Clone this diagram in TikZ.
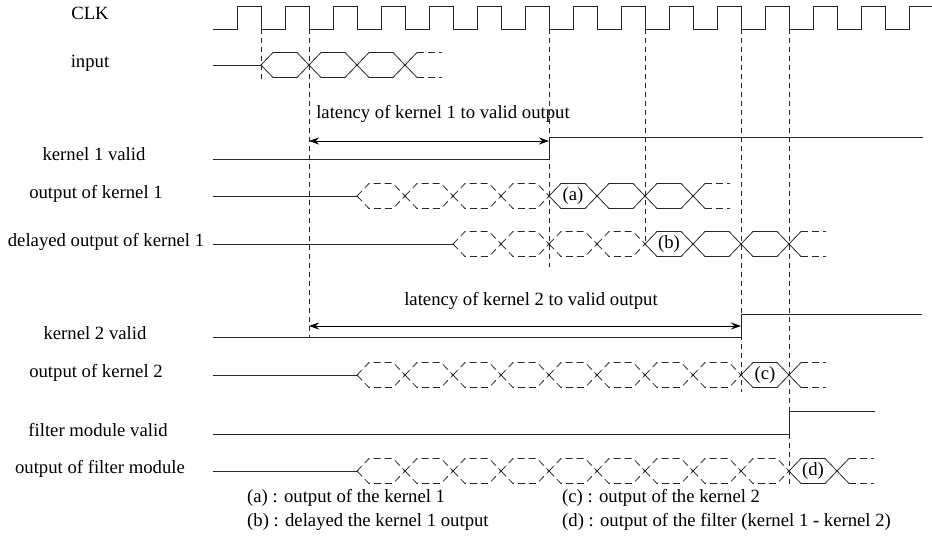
\documentclass[tikz,border=0pt]{standalone}
\usepackage{fontspec}
\setmainfont{Liberation Serif}
\usetikzlibrary{arrows.meta}

% one bus cell between two clock edges, #4 = middle of the bus
\newcommand{\hexcell}[4][]{%
  \draw[bus, #1] ({#2},{#4}) -- ({#2+12},{#4-12.5}) -- ({#3-12},{#4-12.5}) -- ({#3},{#4})
    -- ({#3-12},{#4+12.5}) -- ({#2+12},{#4+12.5}) -- cycle;}
% open end of a bus
\newcommand{\busend}[2]{%
  \draw[bus] ({#1+12},{#2-12.5}) -- ({#1},{#2}) -- ({#1+12},{#2+12.5});
  \draw[bus, dashed] ({#1+12},{#2-12.5}) -- ++(25,0) ({#1+12},{#2+12.5}) -- ++(25,0);}

\begin{document}
\begin{tikzpicture}[
  x=1pt, y=-1pt,
  font=\fontsize{18.7}{22}\selectfont,
  sig/.style={draw=black!85, line width=0.8pt},
  bus/.style={draw=black!85, line width=0.8pt},
  dashed/.style={dash pattern=on 7pt off 4pt},
  guide/.style={draw=black!85, line width=0.7pt, dash pattern=on 5pt off 4pt},
  label/.style={anchor=mid, inner sep=0pt},
  legend/.style={anchor=mid west, inner sep=0pt},
  arrow/.style={{Stealth[length=10pt, width=7pt]}-{Stealth[length=10pt, width=7pt]}, line width=0.9pt}
]
\useasboundingbox (0,0) rectangle (932,543);

% signal names
\node[label] (lclk) at (90,17) {CLK};
\node[label] (lin) at (90,65) {input};
\node[label] (lv1) at (94,158) {kernel 1 valid};
\node[label] (lo1) at (96,196) {output of kernel 1};
\node[label] (ld1) at (106,244) {delayed output of kernel 1};
\node[label] (lv2) at (95,337) {kernel 2 valid};
\node[label] (lo2) at (96,375) {output of kernel 2};
\node[label] (lvf) at (98,434) {filter module valid};
\node[label] (lof) at (100,471) {output of filter module};

% guides on the falling edges
\draw[guide] (261,29) -- (261,82);
\draw[guide] (309,29) -- (309,338);
\draw[guide] (549,29) -- (549,267);
\draw[guide] (645,29) -- (645,244);
\draw[guide] (741,29) -- (741,392);
\draw[guide] (789,29) -- (789,488);

% clock
\draw[sig] (213,29) \foreach \k in {0,...,13} {
  -- ({237+48*\k},29) -- ({237+48*\k},6) -- ({261+48*\k},6) -- ({261+48*\k},29)}
  -- (909,29) -- (909,6) -- (932,6);

% input
\draw[sig] (213,65) -- (261,65);
\foreach \x in {261,309,357} \hexcell{\x}{\x+48}{65};
\busend{405}{65}

% kernel 1 valid
\coordinate (v1lo) at (549,159);
\coordinate (v1hi) at (549,137);
\draw[sig] (213,159) -- (v1lo) -- (v1hi) -- (923,137);
\coordinate (a1s) at (309,141);
\coordinate (a1e) at (549,141);
\draw[arrow] (a1s) -- (a1e);
\node[label] (t1) at (443,116) {latency of kernel 1 to valid output};

% output of kernel 1
\draw[sig] (213,196) -- (357,196);
\foreach \x in {357,405,453,501} \hexcell[dashed]{\x}{\x+48}{196};
\foreach \x in {549,597,645} \hexcell{\x}{\x+48}{196};
\busend{693}{196}
\node (ca) at (573,196) {(a)};

% delayed output of kernel 1
\draw[sig] (213,244) -- (453,244);
\foreach \x in {453,501,549,597} \hexcell[dashed]{\x}{\x+48}{244};
\foreach \x in {645,693,741} \hexcell{\x}{\x+48}{244};
\busend{789}{244}
\node (cb) at (669,244) {(b)};

% kernel 2 valid
\coordinate (v2lo) at (741,337);
\coordinate (v2hi) at (741,314);
\draw[sig] (213,337) -- (v2lo) -- (v2hi) -- (922,314);
\coordinate (a2s) at (309,326);
\coordinate (a2e) at (741,326);
\draw[arrow] (a2s) -- (a2e);
\node[label] (t2) at (531,303) {latency of kernel 2 to valid output};

% output of kernel 2
\draw[sig] (213,375) -- (357,375);
\foreach \x in {357,405,...,693} \hexcell[dashed]{\x}{\x+48}{375};
\hexcell{741}{789}{375}
\busend{789}{375}
\node (cc) at (765,375) {(c)};

% filter module valid
\coordinate (vflo) at (789,434);
\coordinate (vfhi) at (789,411);
\draw[sig] (213,434) -- (vflo) -- (vfhi) -- (875,411);

% output of filter module
\draw[sig] (213,471) -- (357,471);
\foreach \x in {357,405,...,741} \hexcell[dashed]{\x}{\x+48}{471};
\hexcell{789}{837}{471}
\busend{837}{471}
\node (cd) at (813,471) {(d)};

% legend
\node[legend] (na) at (247,500) {(a) : output of the kernel 1};
\node[legend] (nb) at (247,524) {(b) : delayed the kernel 1 output};
\node[legend] (nc) at (562,500) {(c) : output of the kernel 2};
\node[legend] (nd) at (562,524) {(d) : output of the filter (kernel 1 - kernel 2)};
\end{tikzpicture}
\end{document}
